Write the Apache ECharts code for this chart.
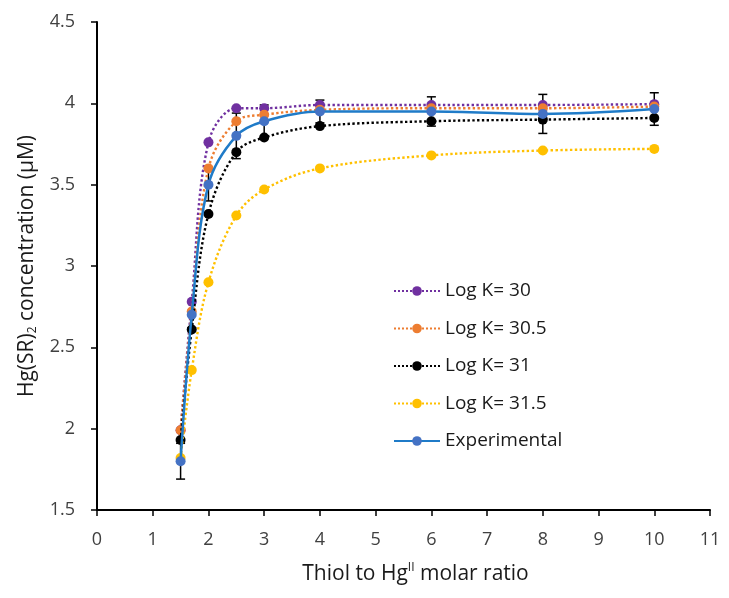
<!DOCTYPE html>
<html><head><meta charset="utf-8">
<script src="https://cdn.jsdelivr.net/npm/echarts@6/dist/echarts.min.js"></script>
<style>html,body{margin:0;padding:0;background:#fff}#c{width:729px;height:598px}</style>
</head><body><div id="c"></div>
<script>
var xVals = [1.5, 1.7, 2, 2.5, 3, 4, 6, 8, 10];
var logK30 = [1.99, 2.78, 3.76, 3.97, 3.97, 3.99, 3.99, 3.99, 3.995];
var logK305 = [1.99, 2.72, 3.60, 3.89, 3.93, 3.96, 3.97, 3.97, 3.98];
var logK31 = [1.93, 2.61, 3.32, 3.70, 3.79, 3.86, 3.89, 3.90, 3.91];
var logK315 = [1.82, 2.36, 2.90, 3.31, 3.47, 3.60, 3.68, 3.71, 3.72];
var experimental = [1.80, 2.70, 3.50, 3.80, 3.89, 3.95, 3.95, 3.935, 3.965];
var expError = [0.11, 0.08, 0.10, 0.14, 0.10, 0.07, 0.09, 0.12, 0.10];
var seriesNames = ['Log K= 30', 'Log K= 30.5', 'Log K= 31', 'Log K= 31.5', 'Experimental'];
var colors = ['#7030A0', '#ED7D31', '#000000', '#FFC000', '#4472C4'];

function pairs(ys){ return xVals.map(function(x,i){ return [x, ys[i]]; }); }

var chart = echarts.init(document.getElementById('c'));
var font = '"Open Sans", "Liberation Sans", sans-serif';
var model = [logK30, logK305, logK31, logK315];
var series = model.map(function(d, i){
  return {
    name: seriesNames[i], type: 'line', data: pairs(d), smooth: 0.35,
    symbol: 'circle', symbolSize: 10, z: 3 + i,
    itemStyle: {color: colors[i]},
    lineStyle: {type: 'dotted', width: 2.4, color: colors[i]}
  };
});
var errData = xVals.map(function(x,i){ return [x, experimental[i]-expError[i], experimental[i]+expError[i]]; });
series.push({
  name: 'err', type: 'custom', data: errData, z: 2, silent: true,
  renderItem: function(params, api){
    var lo = api.coord([api.value(0), api.value(1)]);
    var hi = api.coord([api.value(0), api.value(2)]);
    var w = 4.5;
    var st = {stroke: '#000', lineWidth: 1.5};
    return {type: 'group', children: [
      {type: 'line', shape: {x1: lo[0], y1: lo[1], x2: hi[0], y2: hi[1]}, style: st},
      {type: 'line', shape: {x1: lo[0]-w, y1: lo[1], x2: lo[0]+w, y2: lo[1]}, style: st},
      {type: 'line', shape: {x1: hi[0]-w, y1: hi[1], x2: hi[0]+w, y2: hi[1]}, style: st}
    ]};
  }
});
series.push({
  name: seriesNames[4], type: 'line', data: pairs(experimental), smooth: 0.35,
  symbol: 'circle', symbolSize: 10, z: 10,
  itemStyle: {color: colors[4]},
  lineStyle: {type: 'solid', width: 2.5, color: '#1F7BC8'}
});

chart.setOption({
  animation: false,
  backgroundColor: '#fff',
  grid: {left: 97, right: 19, top: 22, bottom: 88, containLabel: false},
  legend: {
    data: seriesNames, orient: 'vertical', left: 388, top: 276,
    itemWidth: 46, itemHeight: 12, itemGap: 17.5,
    textStyle: {fontFamily: font, fontSize: 19, lineHeight: 20, color: '#1a1a1a'}
  },
  xAxis: {
    type: 'value', min: 0, max: 11, interval: 1,
    name: '{a|Thiol to Hg}{sup|II}{a| molar ratio}', nameLocation: 'middle', nameGap: 52,
    nameTextStyle: {padding: [0, 0, 0, 24], rich: {
      a: {fontFamily: font, fontSize: 21, color: '#1a1a1a'},
      sup: {fontFamily: font, fontSize: 12, color: '#1a1a1a', verticalAlign: 'top', padding: [0,0,12,0]}
    }},
    axisLine: {lineStyle: {color: '#000', width: 2}},
    axisTick: {show: true, inside: false, length: 6, lineStyle: {color: '#000', width: 1.5}},
    axisLabel: {fontFamily: font, fontSize: 18, color: '#404040', margin: 21},
    splitLine: {show: false}
  },
  yAxis: {
    type: 'value', min: 1.5, max: 4.5, interval: 0.5,
    name: '{a|Hg(SR)}{sub|2}{a| concentration (µM)}', nameLocation: 'middle', nameGap: 58, nameRotate: 90,
    nameTextStyle: {rich: {
      a: {fontFamily: font, fontSize: 21, color: '#1a1a1a'},
      sub: {fontFamily: font, fontSize: 12, color: '#1a1a1a', verticalAlign: 'bottom', padding: [12,0,0,0]}
    }},
    axisLine: {show: true, lineStyle: {color: '#000', width: 2}},
    axisTick: {show: true, inside: false, length: 6, lineStyle: {color: '#000', width: 1.5}},
    axisLabel: {fontFamily: font, fontSize: 18, color: '#404040', margin: 22},
    splitLine: {show: false}
  },
  series: series
});
</script></body></html>
